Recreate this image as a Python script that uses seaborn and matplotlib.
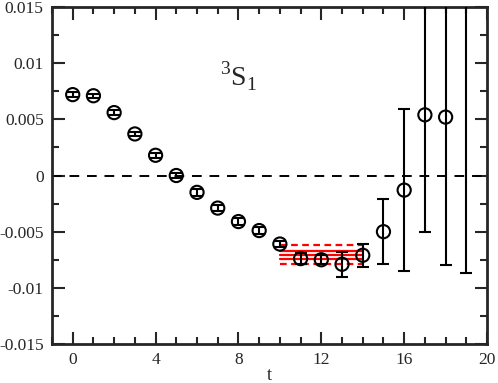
import numpy as np
import pandas as pd
import matplotlib
matplotlib.use("Agg")
import matplotlib.pyplot as plt
from matplotlib.ticker import MultipleLocator
import seaborn as sns

# data
t = [0, 1, 2, 3, 4, 5, 6, 7, 8, 9, 10, 11, 12, 13, 14, 15, 16, 17, 18, 19]
val = [0.0072, 0.0071, 0.0056, 0.0037, 0.0018, 0.0000, -0.0015, -0.0029, -0.0041,
       -0.0049, -0.0061, -0.0074, -0.0075, -0.0079, -0.0071, -0.0050, -0.0013,
       0.0054, 0.0052, 0.0170]
err = [0.0002, 0.0002, 0.0002, 0.0002, 0.0002, 0.0002, 0.0003, 0.0003, 0.0003,
       0.0003, 0.0003, 0.0005, 0.0004, 0.0011, 0.0010, 0.0029, 0.0072,
       0.0104, 0.0132, 0.0257]

# fit band (t = 10..14)
fit_range = [10, 14]
fit_solid = [-0.00670, -0.00708, -0.00746]
fit_dashed = [-0.00622, -0.00785]

sns.set_style("ticks")
plt.rcParams['font.family'] = ['Liberation Serif', 'DejaVu Serif']
plt.rcParams['mathtext.fontset'] = 'custom'
plt.rcParams['mathtext.rm'] = 'Liberation Serif'

fig = plt.figure(figsize=(4.98, 3.83), dpi=100)
ax = fig.add_axes([0.1044, 0.1018, 0.8736, 0.8799])

ax.axhline(0, color="black", linestyle=(0, (5, 4)), linewidth=1.4, zorder=1)

band = []
for i, y in enumerate(fit_solid):
    for x in fit_range:
        band.append({"t": x, "y": y, "line": f"s{i}", "kind": "solid"})
for i, y in enumerate(fit_dashed):
    for x in fit_range:
        band.append({"t": x, "y": y, "line": f"d{i}", "kind": "dashed"})
band = pd.DataFrame(band)
sns.lineplot(data=band, x="t", y="y", units="line", style="kind",
             dashes={"solid": "", "dashed": (3, 2)}, color="red",
             linewidth=1.6, estimator=None, legend=False, ax=ax, zorder=2)

df = pd.DataFrame({"t": t, "val": val, "err": err})
ax.errorbar(df["t"], df["val"], yerr=df["err"], fmt="none", ecolor="black",
            elinewidth=1.5, capsize=4.5, capthick=1.5, zorder=3)
sns.scatterplot(data=df, x="t", y="val", marker="o", s=90, facecolor="none",
                edgecolor="black", linewidth=1.5, ax=ax, zorder=4)

ax.set_xlim(-1, 20)
ax.set_ylim(-0.015, 0.015)
ax.xaxis.set_major_locator(MultipleLocator(4))
ax.xaxis.set_minor_locator(MultipleLocator(1))
ax.yaxis.set_major_locator(MultipleLocator(0.005))
ax.yaxis.set_minor_locator(MultipleLocator(0.0025))
ax.set_yticks([-0.015, -0.01, -0.005, 0, 0.005, 0.01, 0.015])
ax.set_yticklabels(["-0.015", "-0.01", "-0.005", "0", "0.005", "0.01", "0.015"])
ax.tick_params(which="both", direction="in", top=True, right=True,
               labelsize=12.5, width=1.5, pad=6)
ax.tick_params(which="major", length=9)
ax.tick_params(which="minor", length=5)
for s in ax.spines.values():
    s.set_linewidth(2)

ax.set_xlabel("t", fontsize=13, labelpad=-1)
ax.set_ylabel("")
ax.text(8.0, 0.0088, r"$^{3}\mathrm{S}_{1}$", fontsize=20, ha="center", va="center")

fig.savefig("out.png", dpi=100)
